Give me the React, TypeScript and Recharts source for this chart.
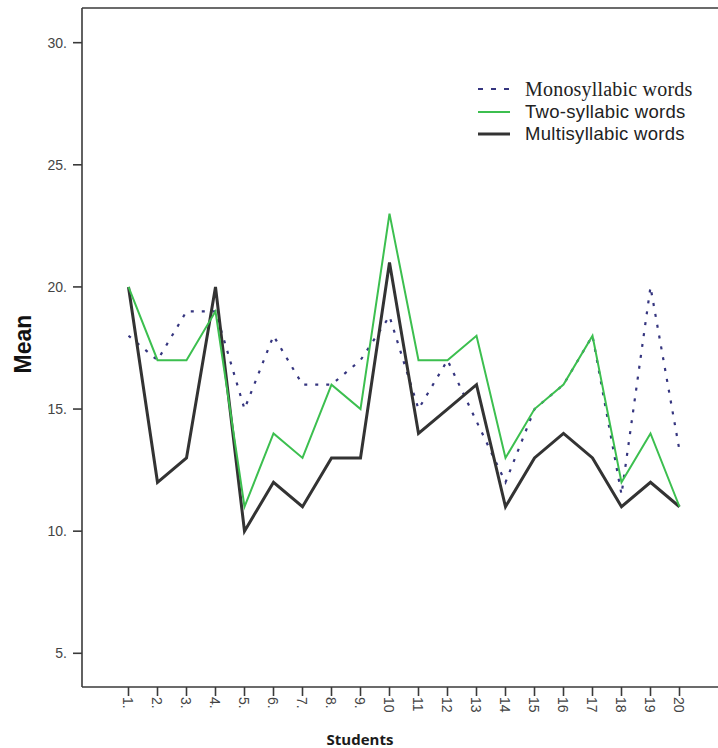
import React from 'react';
import { LineChart, Line, XAxis, YAxis, Legend, ReferenceLine } from 'recharts';

// ---- data ----
const students = [1, 2, 3, 4, 5, 6, 7, 8, 9, 10, 11, 12, 13, 14, 15, 16, 17, 18, 19, 20];
const xTickLabels = ['1.', '2.', '3.', '4.', '5.', '6.', '7.', '8.', '9.', '10', '11', '12', '13', '14', '15', '16', '17', '18', '19', '20'];
const monosyllabic = [18, 17, 19, 19, 15, 18, 16, 16, 17, 18.8, 15, 17, 14.5, 12, 15, 16, 18, 11.5, 20, 13.3];
const twoSyllabic = [20, 17, 17, 19, 11, 14, 13, 16, 15, 23, 17, 17, 18, 13, 15, 16, 18, 12, 14, 11];
const multisyllabic = [20, 12, 13, 20, 10, 12, 11, 13, 13, 21, 14, 15, 16, 11, 13, 14, 13, 11, 12, 11];
const yTicks = [5, 10, 15, 20, 25, 30];
const yTickLabels = ['5.', '10.', '15.', '20.', '25.', '30.'];
const seriesNames = ['Monosyllabic words', 'Two-syllabic words', 'Multisyllabic words'];

const data = students.map((s, i) => ({
  student: s,
  mono: monosyllabic[i],
  two: twoSyllabic[i],
  multi: multisyllabic[i],
}));

const X_DOMAIN: [number, number] = [-0.6034, 21.3276];
const Y_DOMAIN: [number, number] = [3.62, 31.42];

const AXIS_COLOR = '#3a3a3a';
const BLUE = '#35357f';
const GREEN = '#3cbf4f';
const BLACK = '#333333';

const XTick = (props: any) => {
  const { x, y, payload } = props;
  const idx = students.indexOf(payload.value);
  return (
    <text
      x={x}
      y={y}
      dy={5}
      transform={`rotate(90, ${x}, ${y})`}
      textAnchor="start"
      fontFamily="'Liberation Sans', Arial, sans-serif"
      fontSize={14}
      fill="#444"
    >
      {idx >= 0 ? xTickLabels[idx] : ''}
    </text>
  );
};

const renderLegend = () => {
  const rows = [
    { name: seriesNames[0], color: BLUE, dash: '5 8', width: 2.2, font: "'Liberation Serif', 'Times New Roman', serif", size: 20, ls: 0.2 },
    { name: seriesNames[1], color: GREEN, dash: undefined, width: 2, font: "'Liberation Sans', Arial, sans-serif", size: 18.5, ls: 0.3 },
    { name: seriesNames[2], color: BLACK, dash: undefined, width: 3, font: "'Liberation Sans', Arial, sans-serif", size: 18.5, ls: 0.3 },
  ];
  return (
    <div>
      {rows.map((r) => (
        <div key={r.name} style={{ display: 'flex', alignItems: 'center', height: 22.5 }}>
          <svg width={49} height={10} style={{ display: 'block' }}>
            <line x1={2} y1={5} x2={34} y2={5} stroke={r.color} strokeWidth={r.width} strokeDasharray={r.dash} />
          </svg>
          <span style={{ fontFamily: r.font, fontSize: r.size, letterSpacing: r.ls, color: '#222', whiteSpace: 'nowrap', lineHeight: 1 }}>{r.name}</span>
        </div>
      ))}
    </div>
  );
};

export default function App() {
  return (
    <div style={{ position: 'absolute', left: 0, top: 0, width: 718, height: 748, background: '#fff' }}>
      <LineChart width={718} height={748} data={data} margin={{ top: 8, right: 0, bottom: 0, left: 0 }}>
        <XAxis
          type="number"
          dataKey="student"
          domain={X_DOMAIN}
          ticks={students}
          allowDataOverflow
          height={61}
          tickSize={9}
          tickMargin={1}
          tick={<XTick />}
          axisLine={{ stroke: AXIS_COLOR, strokeWidth: 1.6 }}
          tickLine={{ stroke: AXIS_COLOR, strokeWidth: 1.6 }}
          interval={0}
          label={{
            content: () => (
              <text x={360} y={745} textAnchor="middle" fontFamily="'Open Sans', sans-serif" fontWeight={700} fontSize={15} fill="#1a1a1a">
                Students
              </text>
            ),
          }}
        />
        <YAxis
          type="number"
          domain={Y_DOMAIN}
          ticks={yTicks}
          allowDataOverflow
          width={82}
          tickSize={9}
          tickMargin={6}
          tickFormatter={(v: number) => yTickLabels[yTicks.indexOf(v)] ?? String(v)}
          tick={{ fontFamily: "'Liberation Sans', Arial, sans-serif", fontSize: 14, fill: '#444' }}
          axisLine={{ stroke: AXIS_COLOR, strokeWidth: 1.6 }}
          tickLine={{ stroke: AXIS_COLOR, strokeWidth: 1.6 }}
          label={{
            content: () => (
              <text x={31} y={344} transform="rotate(-90, 31, 344)" textAnchor="middle" fontFamily="'Liberation Sans', Arial, sans-serif" fontWeight={700} fontSize={23} fill="#111">
                Mean
              </text>
            ),
          }}
        />
        <ReferenceLine y={Y_DOMAIN[1]} stroke={AXIS_COLOR} strokeWidth={1.6} ifOverflow="extendDomain" />
        <Legend
          layout="vertical"
          align="center"
          verticalAlign="middle"
          content={renderLegend}
          wrapperStyle={{ position: 'absolute', left: 476, top: 78, width: 240, height: 70 }}
        />
        <Line type="linear" dataKey="mono" name={seriesNames[0]} stroke={BLUE} strokeWidth={2.2} strokeDasharray="3 8" dot={false} isAnimationActive={false} />
        <Line type="linear" dataKey="multi" name={seriesNames[2]} stroke={BLACK} strokeWidth={3} dot={false} isAnimationActive={false} />
        <Line type="linear" dataKey="two" name={seriesNames[1]} stroke={GREEN} strokeWidth={2} dot={false} isAnimationActive={false} />
      </LineChart>
    </div>
  );
}
